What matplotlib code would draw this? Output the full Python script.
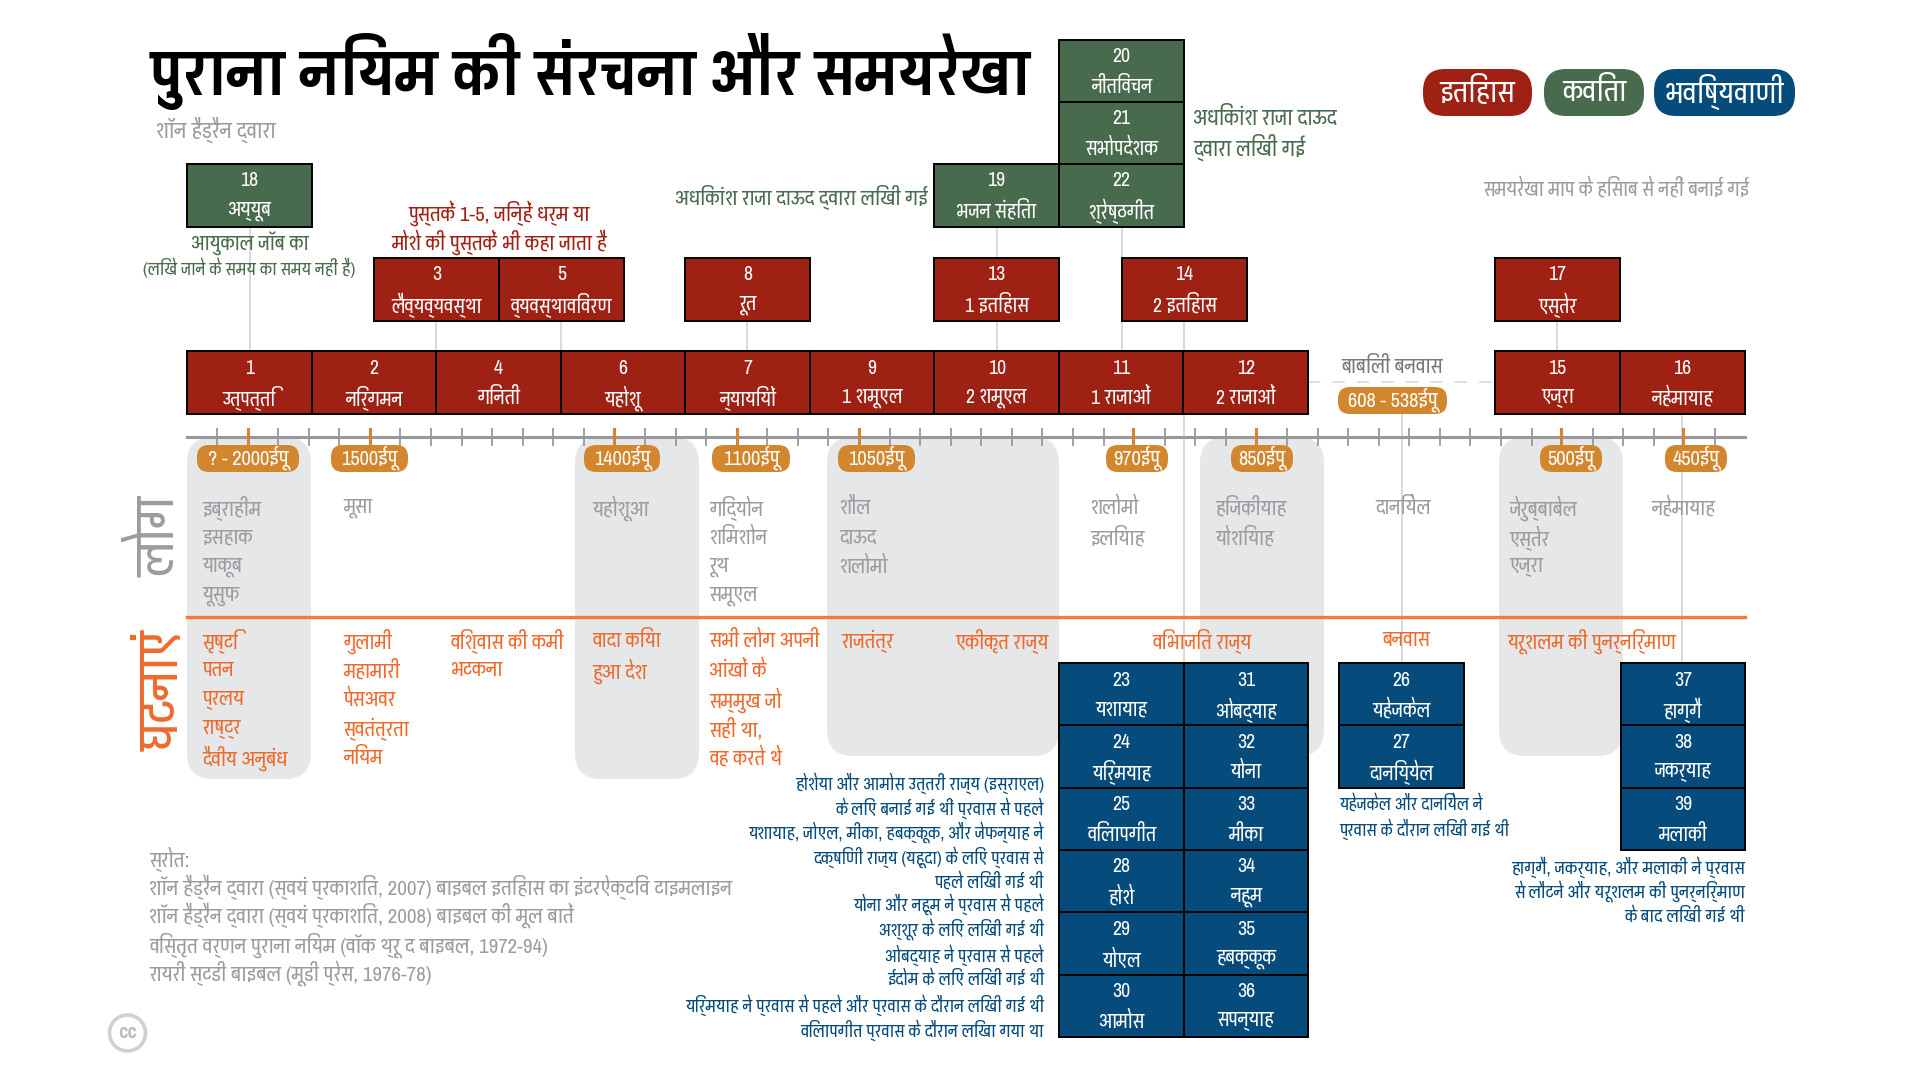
import matplotlib
matplotlib.use("Agg")
import matplotlib.pyplot as plt
from matplotlib.patches import FancyBboxPatch, Rectangle, Circle
import numpy as np

FONT = "Pragati Narrow"
plt.rcParams['font.family'] = [FONT, 'DejaVu Sans']

RED = '#9f2114'
GREEN = '#486b4e'
BLUE = '#054b7c'
ORANGE = '#d2872e'
EVENT = '#ee6a2c'
GREY = '#9a9c9f'
PANEL = '#e6e7e8'

# books
main_nums = [1, 2, 4, 6, 7, 9, 10, 11, 12]
main_names = ['उत्पत्ति', 'निर्गमन', 'गिनती', 'यहोशू', 'न्यायियों', '1 शमूएल', '2 शमूएल', '1 राजाओं', '2 राजाओं']
late_nums = [15, 16]
late_names = ['एज्रा', 'नहेमायाह']
upper_nums = [3, 5, 8, 13, 14, 17]
upper_names = ['लैव्यव्यवस्था', 'व्यवस्थाविवरण', 'रूत', '1 इतिहास', '2 इतिहास', 'एस्तेर']
poetry_nums = [18, 19, 20, 21, 22]
poetry_names = ['अय्यूब', 'भजन संहिता', 'नीतिवचन', 'सभोपदेशक', 'श्रेष्ठगीत']
major_nums = [23, 24, 25, 28, 29, 30]
major_names = ['यशायाह', 'यिर्मयाह', 'विलापगीत', 'होशे', 'योएल', 'आमोस']
minor_nums = [31, 32, 33, 34, 35, 36]
minor_names = ['ओबद्याह', 'योना', 'मीका', 'नहूम', 'हबक्कूक', 'सपन्याह']
exile_nums = [26, 27]
exile_names = ['यहेजकेल', 'दानिय्येल']
return_nums = [37, 38, 39]
return_names = ['हाग्गै', 'जकर्याह', 'मलाकी']

# timeline
dates = ['? - 2000ईपू', '1500ईपू', '1400ईपू', '1100ईपू', '1050ईपू', '970ईपू', '850ईपू', '500ईपू', '450ईपू']
people = [['इब्राहीम', 'इसहाक', 'याकूब', 'यूसुफ'], ['मूसा'], ['यहोशूआ'],
          ['गिद्योन', 'शिमशोन', 'रूथ', 'समूएल'], ['शौल', 'दाऊद', 'शलोमो'],
          ['शलोमो', 'इलियाह'], ['हिजकीयाह', 'योशियाह'], ['दानियेल'],
          ['जेरुब्बाबेल', 'एस्तेर', 'एज्रा'], ['नहेमायाह']]
events = [['सृष्टि', 'पतन', 'प्रलय', 'राष्ट्र', 'दैवीय अनुबंध'],
          ['गुलामी', 'महामारी', 'पेसअवर', 'स्वतंत्रता', 'नियम'],
          ['विश्वास की कमी', 'भटकना'], ['वादा किया', 'हुआ देश'],
          ['सभी लोग अपनी', 'आंखों के', 'सम्मुख जो', 'सही था,', 'वह करते थे'],
          ['राजतंत्र'], ['एकीकृत राज्य'], ['विभाजित राज्य'], ['बनवास'], ['यरूशलम की पुनर्निर्माण']]

prophets_note = ['होशेया और आमोस उत्तरी राज्य (इस्राएल)', 'के लिए बनाई गई थीं प्रवास से पहले',
                 'यशायाह, जोएल, मीका, हबक्कूक, और जेफन्याह ने', 'दक्षिणी राज्य (यहूदा) के लिए प्रवास से',
                 'पहले लिखी गई थी', 'योना और नहूम ने प्रवास से पहले', 'अश्शूर के लिए लिखी गई थी',
                 'ओबद्याह ने प्रवास से पहले', 'ईदोम के लिए लिखी गई थी',
                 'यिर्मयाह ने प्रवास से पहले और प्रवास के दौरान लिखी गई थी', 'विलापगीत प्रवास के दौरान लिखा गया था']
exile_note = ['यहेजकेल और दानियेल ने', 'प्रवास के दौरान लिखी गई थी']
return_note = ['हाग्गै, जकर्याह, और मलाकी ने प्रवास', 'से लौटने और यरूशलम की पुनर्निर्माण', 'के बाद लिखी गई थी']
sources = ['स्रोत:', 'शॉन हैड्रैन द्वारा (स्वयं प्रकाशित, 2007) बाइबल इतिहास का इंटरऐक्टिव टाइमलाइन',
           'शॉन हैड्रैन द्वारा (स्वयं प्रकाशित, 2008) बाइबल की मूल बातें',
           'विस्तृत वर्णन पुराना नियम (वॉक थ्रू द बाइबल, 1972-94)', 'रायरी स्टडी बाइबल (मूडी प्रेस, 1976-78)']
legend_names = ['इतिहास', 'कविता', 'भविष्यवाणी']

fig = plt.figure(figsize=(19.2, 10.8), dpi=100)
ax = fig.add_axes([0, 0, 1, 1])
ax.set_xlim(0, 1920)
ax.set_ylim(1080, 0)
ax.axis('off')


def txt(x, y, s, size=15, color='white', ha='center', **kw):
    kw.setdefault('zorder', 6)
    return ax.text(x, y, s, fontsize=size, color=color, ha=ha, va='center', **kw)


def book(x0, x1, y0, y1, num, name, color):
    ax.add_patch(Rectangle((x0, y0), x1 - x0, y1 - y0, fc=color, ec='black', lw=1.4, zorder=4))
    xc = (x0 + x1) / 2
    txt(xc, y0 + 17, str(num), 15.5)
    txt(xc, y0 + 47, name, 15.5)


def pill(x0, x1, y0, y1, s, color, size=15, r=12):
    ax.add_patch(FancyBboxPatch((x0 + r, y0 + r), x1 - x0 - 2 * r, y1 - y0 - 2 * r,
                                boxstyle='round,pad=%d,rounding_size=%d' % (r, r),
                                fc=color, ec='none', zorder=5))
    txt((x0 + x1) / 2, (y0 + y1) / 2 - 1, s, size)


def panel(x0, x1, y0, y1, r=26):
    ax.add_patch(FancyBboxPatch((x0 + r, y0 + r), x1 - x0 - 2 * r, y1 - y0 - 2 * r,
                                boxstyle='round,pad=%d,rounding_size=%d' % (r, r),
                                fc=PANEL, ec='none', zorder=1))


def stack(x, ys, lines, color, size=13.5, ha='left'):
    for y, s in zip(ys, lines):
        txt(x, y, s, size, color, ha=ha)


# grey panels behind the timeline
for x0, x1, y1 in [(187, 311, 779), (575, 699, 779), (827, 1059, 756), (1200, 1324, 756), (1499, 1623, 756)]:
    panel(x0, x1, 437, y1)

# thin connector lines
for x, y0, y1 in [(250, 227, 351), (436, 321, 351), (561, 321, 351), (747, 321, 351), (997, 227, 258),
                  (997, 321, 351), (1122, 227, 351), (1184, 321, 351), (1184, 414, 663), (1402, 414, 663),
                  (1557, 321, 351), (1682, 414, 663)]:
    ax.plot([x, x], [y0, y1], color='#cfd0d2', lw=1.1, zorder=2)

ax.plot([1308, 1495], [382, 382], color='#d5d6d8', lw=1.1, ls=(0, (8, 8)), zorder=2)

# main row
main_edges = np.linspace(187, 1308, len(main_nums) + 1)
for i, (n, s) in enumerate(zip(main_nums, main_names)):
    book(main_edges[i], main_edges[i + 1], 351, 414, n, s, RED)
for x0, x1, n, s in zip([1495, 1620], [1620, 1745], late_nums, late_names):
    book(x0, x1, 351, 414, n, s, RED)

# row above
for x0, x1, n, s in zip([374, 499, 685, 934, 1122, 1495], [499, 624, 810, 1059, 1247, 1620], upper_nums, upper_names):
    book(x0, x1, 258, 321, n, s, RED)

# poetry
for x0, y0, n, s in zip([187, 934, 1059, 1059, 1059], [164, 164, 40, 102, 164], poetry_nums, poetry_names):
    book(x0, x0 + 125, y0, y0 + 63, n, s, GREEN)

# prophets
rows = np.linspace(663, 1037, 7)
for i in range(6):
    book(1059, 1184, rows[i], rows[i + 1], major_nums[i], major_names[i], BLUE)
    book(1184, 1308, rows[i], rows[i + 1], minor_nums[i], minor_names[i], BLUE)
for i in range(2):
    book(1339, 1464, rows[i], rows[i + 1], exile_nums[i], exile_names[i], BLUE)
for i in range(3):
    book(1621, 1745, rows[i], rows[i + 1], return_nums[i], return_names[i], BLUE)

# timeline axis
ax.plot([187, 1745], [437, 437], color='#96989b', lw=2.2, zorder=3)
for x in 217 + 30.57 * np.arange(50):
    ax.plot([x, x], [429, 445], color='#96989b', lw=1.3, zorder=3)
for x in [248, 370, 614, 737, 859, 1133, 1256, 1561, 1683]:
    ax.plot([x, x], [429, 447], color=ORANGE, lw=2.2, zorder=4)
date_x0 = [197, 331, 584, 712, 838, 1106, 1231, 1540, 1665]
date_x1 = [299, 408, 660, 790, 915, 1168, 1293, 1602, 1727]
for x0, x1, s in zip(date_x0, date_x1, dates):
    pill(x0, x1, 445, 472, s, ORANGE, 16)
pill(1338, 1447, 387, 414, '608 - 538ईपू', ORANGE, 16)
txt(1392, 367, 'बाबिली बनवास', 16, '#77797c', zorder=6)

ax.plot([187, 1745], [617, 617], color='#f47a3c', lw=2.4, zorder=3)

people_x = [202, 343, 592, 709, 839, 1090, 1215, 1375, 1509, 1651]
people_y = [508, 538, 567, 596]
for x, names in zip(people_x, people):
    stack(x, people_y, names, GREY, 16)

event_x = [202, 343, 450, 592, 709, 841, 955, 1152, 1382, 1507]
event_y = [641, 671, 700, 729, 758]
for x, lines in zip(event_x, events):
    stack(x, event_y, lines, EVENT, 16)

txt(158, 536, 'लोग', 41, GREY, rotation=90)
txt(162, 690, 'घटनाएं', 42, EVENT, rotation=90)

# title block
txt(150, 72, 'पुराना नियम की संरचना और समयरेखा', 49, 'black', ha='left', fontweight='bold')
txt(156, 130, 'शॉन हैड्रैन द्वारा', 17, GREY, ha='left')

# legend
for x0, x1, s, c in zip([1423, 1544, 1654], [1532, 1644, 1795], legend_names, [RED, GREEN, BLUE]):
    pill(x0, x1, 69, 116, s, c, 23, r=22)
txt(1749, 189, 'समयरेखा माप के हिसाब से नहीं बनाई गई', 15.6, GREY, ha='right')

# notes
txt(250, 243, 'आयुकाल जॉब का', 16, GREEN)
txt(249, 268, '(लिखे जाने के समय का समय नहीं है)', 13.7, GREEN)
txt(499, 213, 'पुस्तकें 1-5, जिन्हें धर्म या', 16.3, RED)
txt(499, 242, 'मोशे की पुस्तकें भी कहा जाता है', 16.3, RED)
txt(928, 197, 'अधिकांश राजा दाऊद द्वारा लिखी गई', 16.3, GREEN, ha='right')
txt(1193, 118, 'अधिकांश राजा दाऊद', 16.8, GREEN, ha='left')
txt(1193, 147, 'द्वारा लिखी गई', 16.8, GREEN, ha='left')

stack(1044, [783, 808, 832, 857, 882, 904, 929, 955, 979, 1005, 1030], prophets_note, BLUE, 13.7, ha='right')
stack(1339, [804, 829], exile_note, BLUE, 13.6)
stack(1745, [867, 891, 916], return_note, BLUE, 14, ha='right')
stack(149, [859, 887, 915, 945, 973], sources, GREY, 16.4)

# cc mark
ax.add_patch(Circle((127.5, 1033), 18, fc='white', ec='#cfd0d2', lw=2.6, zorder=3))
txt(127.5, 1032, 'cc', 16, '#b9bbbd', fontweight='bold')

fig.savefig('out.png', dpi=100)
